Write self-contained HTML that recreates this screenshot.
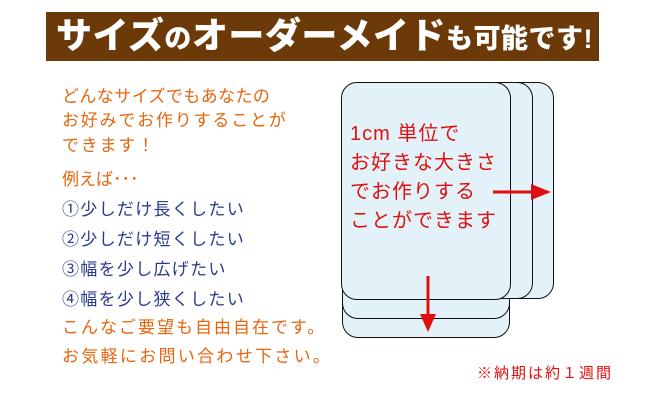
<!DOCTYPE html>
<html><head><meta charset="utf-8"><style>
body{margin:0;width:650px;height:401px;background:#fff;position:relative;overflow:hidden;font-family:"Liberation Sans","Noto Sans CJK JP",sans-serif}
.hdr{position:absolute;left:46px;top:12px;width:553px;height:49px;background:#6b3a08}
.ttl{position:absolute;left:56px;top:12px;color:#fff;font-weight:900;font-size:36px;line-height:48px;white-space:nowrap;letter-spacing:0.5px}
.ttl small{font-size:27px}
.l{position:absolute;left:62px;font-size:17px;white-space:nowrap;line-height:20px}
.o{color:#e8650f}.b{color:#2b3990}
.card{position:absolute;background:#e3f2f8;border:1.5px solid #111;border-radius:16px;box-sizing:border-box}
.r{position:absolute;left:350px;color:#e01010;font-size:20px;letter-spacing:1px;white-space:nowrap;line-height:24px}
</style></head><body>
<div class="hdr"></div>
<div class="ttl">サイズ<small>の</small>オーダーメイド<small>も可能です!</small></div>
<div class="l o" style="top:87px;letter-spacing:0.4px">どんなサイズでもあなたの</div>
<div class="l o" style="top:111px;letter-spacing:1.8px">お好みでお作りすることが</div>
<div class="l o" style="top:136px;letter-spacing:1.8px">できます！</div>
<div class="l o" style="top:170px;letter-spacing:0px">例えば･･･</div>
<div class="l b" style="top:200px;letter-spacing:1.3px">①少しだけ長くしたい</div>
<div class="l b" style="top:230px;letter-spacing:1.3px">②少しだけ短くしたい</div>
<div class="l b" style="top:260px;letter-spacing:1.3px">③幅を少し広げたい</div>
<div class="l b" style="top:290px;letter-spacing:1.3px">④幅を少し狭くしたい</div>
<div class="l o" style="top:318px;letter-spacing:2px">こんなご要望も自由自在です。</div>
<div class="l o" style="top:347px;letter-spacing:2.3px">お気軽にお問い合わせ下さい。</div>

<div class="card" style="left:342px;top:120px;width:168px;height:218px"></div>
<div class="card" style="left:342px;top:100px;width:168px;height:219px"></div>
<div class="card" style="left:400px;top:82px;width:154px;height:217px"></div>
<div class="card" style="left:380px;top:82px;width:153px;height:217px"></div>
<div class="card" style="left:341px;top:82px;width:170px;height:218px"></div>

<div class="r" style="top:122px">1cm 単位で</div>
<div class="r" style="top:151px">お好きな大きさ</div>
<div class="r" style="top:180px">でお作りする</div>
<div class="r" style="top:209px">ことができます</div>

<svg style="position:absolute;left:0;top:0" width="650" height="401">
<line x1="493" y1="192" x2="533" y2="192" stroke="#e01010" stroke-width="3"/>
<polygon points="531,184 551,192 531,200" fill="#e01010"/>
<line x1="428" y1="276" x2="428" y2="316" stroke="#e01010" stroke-width="3"/>
<polygon points="420,314 436,314 428,332" fill="#e01010"/>
</svg>
<div style="position:absolute;left:477px;top:362px;color:#e01010;font-size:15px;letter-spacing:2px;white-space:nowrap">※納期は約１週間</div>
</body></html>
